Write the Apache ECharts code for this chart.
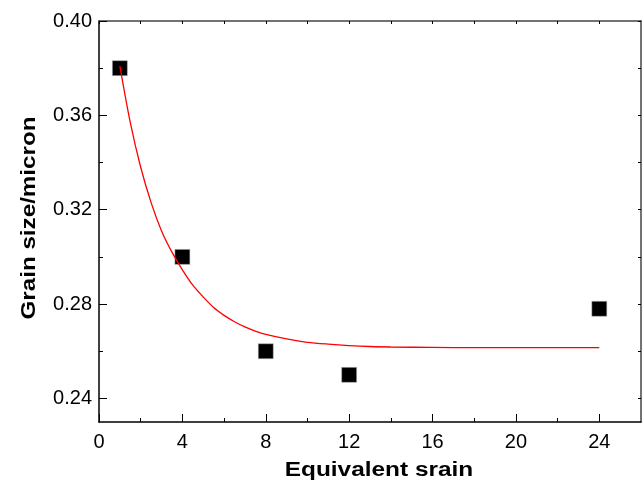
<!DOCTYPE html>
<html>
<head>
<meta charset="utf-8">
<script src="https://cdn.jsdelivr.net/npm/echarts@6/dist/echarts.min.js"></script>
<style>html,body{margin:0;padding:0;background:#fff}#c{width:643px;height:482px}</style>
</head>
<body>
<div id="c"></div>
<script>
// Measured points
const strain = [1, 4, 8, 12, 24];
const grainSize = [0.380, 0.300, 0.260, 0.250, 0.278];
// Red fit line
const fitX = [1, 1.5, 2, 2.5, 3, 3.5, 4, 4.5, 5, 5.5, 6, 6.5, 7, 7.5, 8, 9, 10, 11, 12, 13, 14, 16, 18, 20, 22, 24];
const fitY = [0.381, 0.357, 0.338, 0.323, 0.311, 0.302, 0.2945, 0.288, 0.283, 0.2785, 0.2752, 0.2725, 0.2703, 0.2685, 0.2671, 0.2652, 0.2638, 0.2630, 0.2624, 0.2620, 0.2618, 0.2616, 0.2615, 0.2615, 0.2615, 0.2615];
// Tick positions
const xMajor = [0, 4, 8, 12, 16, 20, 24];
const xMinor = [2, 6, 10, 14, 18, 22];
const yMajor = [0.24, 0.28, 0.32, 0.36, 0.40];
const yMinor = [0.26, 0.30, 0.34, 0.38];
const xTitle = 'Equivalent srain';
const yTitle = 'Grain size/micron';

const FONT = 'Liberation Sans, Arial, Helvetica, sans-serif';
const X_MIN = 0, X_MAX = 26, Y_MIN = 0.23, Y_MAX = 0.40;

const chart = echarts.init(document.getElementById('c'), null, {renderer: 'canvas'});

function xAx(extra) {
  return Object.assign({
    type: 'value', min: X_MIN, max: X_MAX,
    splitLine: {show: false},
    axisLine: {show: false, onZero: false},
    axisTick: {show: false},
    axisLabel: {show: false}
  }, extra);
}
function yAx(extra) {
  return Object.assign({
    type: 'value', min: Y_MIN, max: Y_MAX,
    splitLine: {show: false},
    axisLine: {show: false, onZero: false},
    axisTick: {show: false},
    axisLabel: {show: false}
  }, extra);
}

const titleStyle = {fill: '#000', fontSize: 20, fontWeight: 'bold', fontFamily: FONT, align: 'center', verticalAlign: 'middle'};

const option = {
  backgroundColor: '#fff',
  animation: false,
  grid: {left: 99, right: 2, top: 21, bottom: 60, containLabel: false},
  xAxis: [
    xAx({
      position: 'bottom',
      axisLine: {show: true, onZero: false, lineStyle: {color: '#000', width: 1.5}},
      axisTick: {show: true, inside: true, length: 8, customValues: xMajor, lineStyle: {color: '#000', width: 1}},
      axisLabel: {show: true, customValues: xMajor, color: '#000', fontSize: 20, fontFamily: FONT, margin: 10}
    }),
    xAx({
      position: 'bottom',
      axisTick: {show: true, inside: true, length: 4, customValues: xMinor, lineStyle: {color: '#000', width: 1}}
    }),
    xAx({
      position: 'top',
      axisLine: {show: true, onZero: false, lineStyle: {color: '#444', width: 1.5}},
      axisTick: {show: true, inside: true, length: 3, customValues: xMajor.concat(xMinor), lineStyle: {color: '#000', width: 1}}
    })
  ],
  yAxis: [
    yAx({
      position: 'left',
      axisLine: {show: true, onZero: false, lineStyle: {color: '#000', width: 1.5}},
      axisTick: {show: true, inside: true, length: 8, customValues: yMajor, lineStyle: {color: '#000', width: 1}},
      axisLabel: {show: true, customValues: yMajor, color: '#000', fontSize: 20, fontFamily: FONT, margin: 7,
        formatter: v => v.toFixed(2)}
    }),
    yAx({
      position: 'left',
      axisTick: {show: true, inside: true, length: 4, customValues: yMinor, lineStyle: {color: '#000', width: 1}}
    }),
    yAx({
      position: 'right',
      axisLine: {show: true, onZero: false, lineStyle: {color: '#444', width: 1.5}},
      axisTick: {show: true, inside: true, length: 3, customValues: yMajor.concat(yMinor), lineStyle: {color: '#000', width: 1}}
    })
  ],
  graphic: [
    {type: 'text', x: 379, y: 470, scaleX: 1.22, style: Object.assign({text: xTitle}, titleStyle)},
    {type: 'text', x: 29, y: 218, rotation: Math.PI / 2, scaleX: 1.21, style: Object.assign({text: yTitle}, titleStyle)}
  ],
  series: [
    {
      type: 'line', xAxisIndex: 0, yAxisIndex: 0,
      data: fitX.map((x, i) => [x, fitY[i]]),
      smooth: 0.3, showSymbol: false, symbol: 'none',
      lineStyle: {color: '#ff0000', width: 1.3}, z: 3
    },
    {
      type: 'scatter', xAxisIndex: 0, yAxisIndex: 0,
      data: strain.map((x, i) => [x, grainSize[i]]),
      symbol: 'rect', symbolSize: 15,
      itemStyle: {color: '#000', opacity: 1, borderColor: '#bbb', borderWidth: 0.5}, z: 2
    }
  ]
};
chart.setOption(option);
</script>
</body>
</html>
